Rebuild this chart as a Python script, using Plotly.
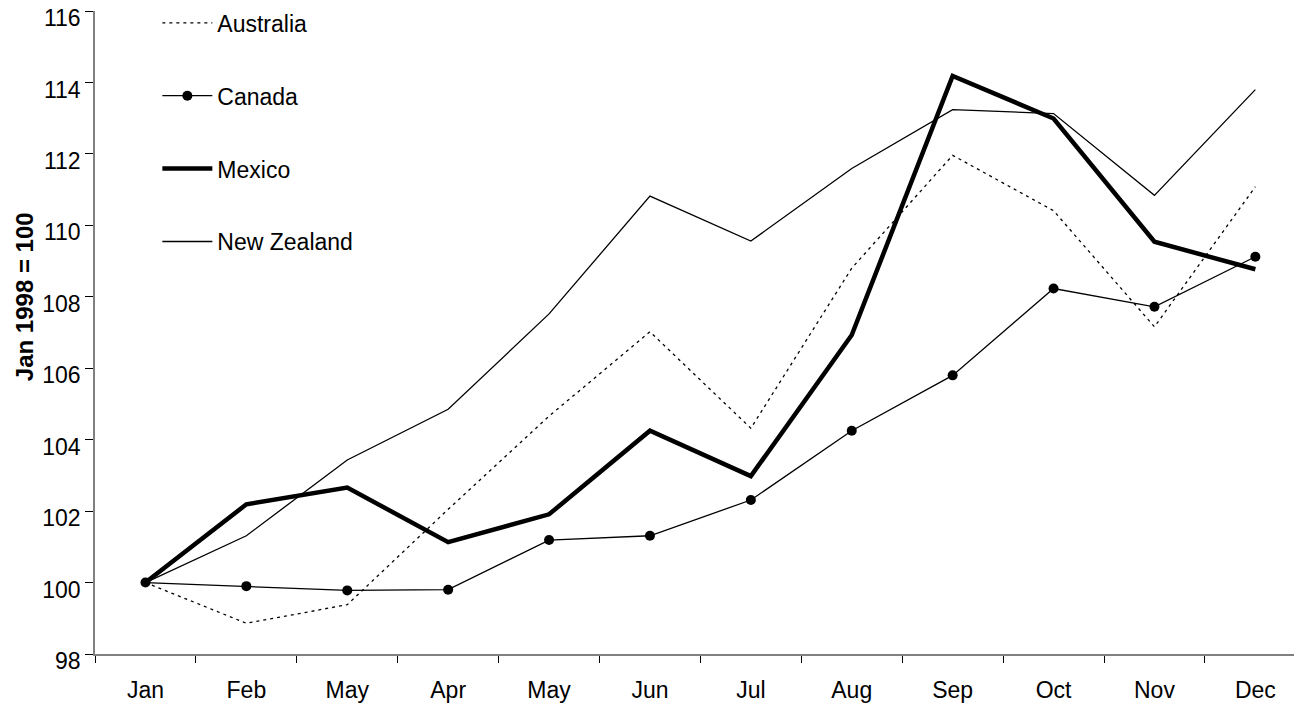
import plotly.graph_objects as go

months = ["Jan", "Feb", "May", "Apr", "May", "Jun", "Jul", "Aug", "Sep", "Oct", "Nov", "Dec"]
australia = [100.0, 98.86, 99.38, 102.05, 104.66, 107.02, 104.32, 108.8, 111.96, 110.41, 107.16, 111.08]
canada = [100.0, 99.9, 99.78, 99.8, 101.19, 101.31, 102.31, 104.25, 105.8, 108.23, 107.72, 109.12]
mexico = [100.0, 102.19, 102.66, 101.13, 101.91, 104.25, 102.98, 106.93, 114.18, 112.99, 109.54, 108.77]
new_zealand = [100.0, 101.31, 103.43, 104.85, 107.52, 110.82, 109.56, 111.59, 113.24, 113.13, 110.84, 113.8]
y_title = "Jan 1998 = 100"

x = list(range(len(months)))
FONT = "Liberation Sans, Arial, sans-serif"
AXIS = "#808080"

fig = go.Figure()
fig.add_trace(go.Scatter(x=x, y=australia, name="Australia", mode="lines", legendgroup="a",
                         line=dict(color="black", width=1.3, dash="3px,4px")))
fig.add_trace(go.Scatter(x=x, y=canada, name="Canada", mode="lines+markers", legendgroup="c",
                         line=dict(color="black", width=1.3),
                         marker=dict(symbol="circle", size=10, color="black")))
fig.add_trace(go.Scatter(x=x, y=mexico, name="Mexico", mode="lines", legendgroup="m",
                         line=dict(color="black", width=4.5)))
fig.add_trace(go.Scatter(x=x, y=new_zealand, name="New Zealand", mode="lines", legendgroup="n",
                         line=dict(color="black", width=1.3)))

fig.update_layout(
    width=1294, height=704,
    margin=dict(l=95, r=0, t=11, b=50, autoexpand=False),
    paper_bgcolor="white", plot_bgcolor="white",
    font=dict(family=FONT, size=23, color="black"),
    showlegend=True,
    legend=dict(x=0.052, y=1.015, xanchor="left", yanchor="top", bgcolor="rgba(0,0,0,0)",
                tracegroupgap=40, font=dict(size=23), itemwidth=50),
    xaxis=dict(range=[-0.5, 11.383], tickmode="array", tickvals=x, ticktext=months,
               ticks="outside", ticklen=15, tickcolor="rgba(0,0,0,0)",
               showline=True, linecolor=AXIS, linewidth=1.5, showgrid=False, zeroline=False,
               minor=dict(ticks="outside", tickmode="array",
                          tickvals=[i - 0.5 for i in range(13)], ticklen=7,
                          tickcolor="black", tickwidth=1, showgrid=False)),
    yaxis=dict(range=[98, 116], tickmode="array", tickvals=list(range(98, 117, 2)),
               ticks="outside", ticklen=8, tickcolor="black", tickwidth=1,
               ticklabeloverflow="allow", ticklabelshift=7,
               showline=True, linecolor=AXIS, linewidth=1.5, showgrid=False, zeroline=False),
    annotations=[dict(text="<b>" + y_title + "</b>", textangle=-90, showarrow=False,
                      xref="paper", yref="paper", x=-0.0592, y=0.555,
                      xanchor="center", yanchor="middle", font=dict(size=24))],
)

fig.write_html("out.html", config={"displayModeBar": False},
               post_script="document.body.style.margin='0';document.body.style.overflow='hidden';")
